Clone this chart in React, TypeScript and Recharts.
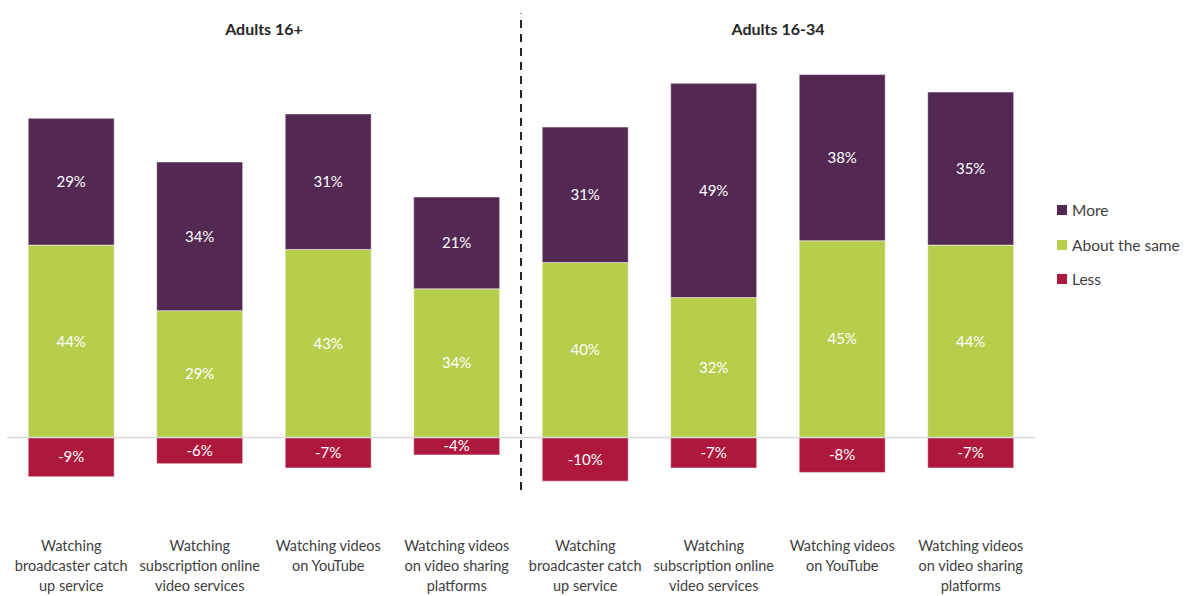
import React from "react";
import { BarChart, Bar, XAxis, YAxis, ReferenceLine, LabelList } from "recharts";

const categoryIds = ["a1", "a2", "a3", "a4", "b1", "b2", "b3", "b4"];
const categoryLabels = [
  ["Watching", "broadcaster catch", "up service"],
  ["Watching", "subscription online", "video services"],
  ["Watching videos", "on YouTube"],
  ["Watching videos", "on video sharing", "platforms"],
  ["Watching", "broadcaster catch", "up service"],
  ["Watching", "subscription online", "video services"],
  ["Watching videos", "on YouTube"],
  ["Watching videos", "on video sharing", "platforms"],
];
const moreValues = [29, 34, 31, 21, 31, 49, 38, 35];
const sameValues = [44, 29, 43, 34, 40, 32, 45, 44];
const lessValues = [-9, -6, -7, -4, -10, -7, -8, -7];
const groupTitles = ["Adults 16+", "Adults 16-34"];

const seriesNames = ["More", "About the same", "Less"];
const COLORS = { more: "#532853", same: "#b7cd4c", less: "#ae183d" };
const FONT = "Lato, 'Open Sans', sans-serif";

const data = categoryIds.map((id, i) => ({
  id,
  more: moreValues[i],
  same: sameValues[i],
  less: lessValues[i],
}));

const pct = (v: any) => `${v}%`;

const Tick = (props: any) => {
  const { x, y, payload } = props;
  const i = categoryIds.indexOf(payload.value);
  const lines = categoryLabels[i] || [];
  return (
    <text x={x} y={y + 40} textAnchor="middle" fill="#404040" fontSize={14.5} fontFamily={FONT}>
      {lines.map((l, k) => (
        <tspan key={k} x={x} dy={k === 0 ? 0 : 20}>
          {l}
        </tspan>
      ))}
    </text>
  );
};

const LegendBlock = () => {
  const cols = [COLORS.more, COLORS.same, COLORS.less];
  return (
    <div style={{ position: "absolute", left: 1057, top: 193, fontFamily: FONT, fontSize: 15.5, color: "#404040" }}>
      {seriesNames.map((n, i) => (
        <div key={n} style={{ display: "flex", alignItems: "center", height: 34.5 }}>
          <span style={{ width: 10, height: 10, background: cols[i], display: "inline-block", marginRight: 5 }} />
          <span>{n}</span>
        </div>
      ))}
    </div>
  );
};

export default function App() {
  return (
    <div style={{ position: "absolute", left: 0, top: 0, width: 1189, height: 596, background: "#fff" }}>
      <BarChart
        width={1189}
        height={596}
        data={data}
        stackOffset="sign"
        margin={{ top: 44, right: 154, bottom: 0, left: 7 }}
        barCategoryGap="16.5%"
      >
        <XAxis dataKey="id" tick={<Tick />} tickLine={false} axisLine={false} interval={0} height={93} />
        <YAxis domain={[-15, 90]} hide allowDataOverflow width={0} />
        <ReferenceLine y={0} stroke="#d9d9d9" strokeWidth={1.5} />
        <Bar dataKey="less" name="Less" stackId="s" fill={COLORS.less} isAnimationActive={false} stroke="#ffffff" strokeOpacity={0.5} strokeWidth={1}>
          <LabelList dataKey="less" position="center" formatter={pct} fill="#ffffff" fontSize={15} fontFamily={FONT} />
        </Bar>
        <Bar dataKey="same" name="About the same" stackId="s" fill={COLORS.same} isAnimationActive={false} stroke="#ffffff" strokeOpacity={0.5} strokeWidth={1}>
          <LabelList dataKey="same" position="center" formatter={pct} fill="#ffffff" fontSize={15} fontFamily={FONT} />
        </Bar>
        <Bar dataKey="more" name="More" stackId="s" fill={COLORS.more} isAnimationActive={false} stroke="#ffffff" strokeOpacity={0.5} strokeWidth={1}>
          <LabelList dataKey="more" position="center" formatter={pct} fill="#ffffff" fontSize={15} fontFamily={FONT} />
        </Bar>
        <ReferenceLine
          segment={[{ x: "b1", y: -12 }, { x: "b1", y: 97 }]}
          position="start"
          stroke="#262626"
          strokeWidth={2}
          strokeDasharray="8 6"
          ifOverflow="visible"
        />
        <ReferenceLine
          segment={[{ x: "a3", y: 93.4 }, { x: "a3", y: 93.5 }]}
          position="start"
          stroke="none"
          ifOverflow="visible"
          label={{ value: groupTitles[0], position: "center", fill: "#262626", fontSize: 16, fontWeight: 700, fontFamily: FONT }}
        />
        <ReferenceLine
          segment={[{ x: "b3", y: 93.4 }, { x: "b3", y: 93.5 }]}
          position="start"
          stroke="none"
          ifOverflow="visible"
          label={{ value: groupTitles[1], position: "center", fill: "#262626", fontSize: 16, fontWeight: 700, fontFamily: FONT }}
        />
      </BarChart>
      <LegendBlock />
    </div>
  );
}
